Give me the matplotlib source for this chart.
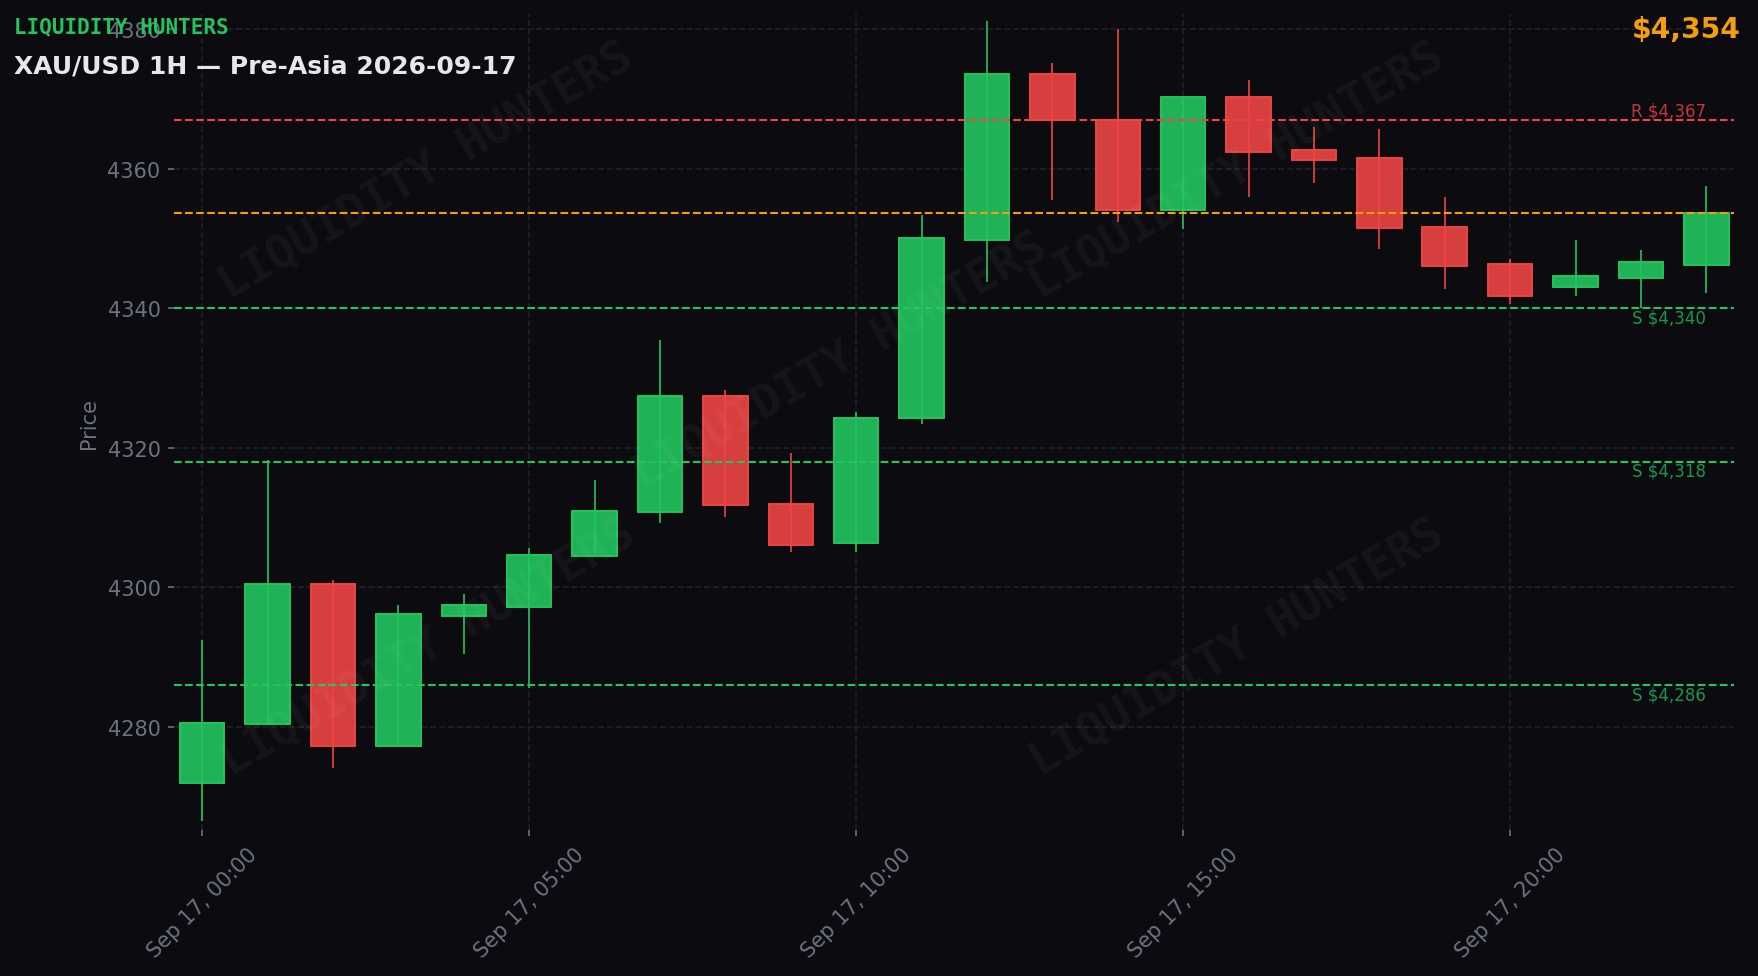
import matplotlib
matplotlib.use("Agg")
import matplotlib.pyplot as plt
import matplotlib.dates as mdates
import pandas as pd
import numpy as np

# ---------------- data ----------------
times = pd.date_range("2026-09-17 00:00", periods=24, freq="h")
opens = [4271.9, 4280.4, 4300.4, 4277.3, 4295.9, 4297.2, 4304.5, 4310.8,
         4327.4, 4311.9, 4306.3, 4324.2, 4349.7, 4373.5, 4367.0, 4354.1,
         4370.2, 4362.6, 4361.5, 4351.7, 4346.3, 4343.1, 4344.35, 4346.2]
highs = [4292.4, 4318.2, 4301.0, 4297.4, 4299.0, 4305.6, 4315.4, 4335.4,
         4328.3, 4319.3, 4325.1, 4353.3, 4381.1, 4375.1, 4380.0, 4370.2,
         4372.7, 4366.0, 4365.7, 4356.0, 4347.0, 4349.8, 4348.3, 4357.5]
lows = [4266.5, 4280.3, 4274.1, 4277.1, 4290.4, 4285.6, 4304.4, 4309.2,
        4310.1, 4305.1, 4305.1, 4323.4, 4343.7, 4355.5, 4352.4, 4351.3,
        4356.0, 4358.0, 4348.5, 4342.8, 4340.6, 4341.8, 4340.0, 4342.1]
closes = [4280.5, 4300.4, 4277.2, 4296.1, 4297.5, 4304.6, 4310.9, 4327.4,
          4311.8, 4306.1, 4324.2, 4350.0, 4373.5, 4367.0, 4354.1, 4370.2,
          4362.4, 4361.3, 4351.5, 4346.1, 4341.8, 4344.55, 4346.6, 4353.7]

resistance_levels = [4367]
support_levels = [4340, 4318, 4286]
current_price = 4353.7

brand = "LIQUIDITY HUNTERS"
title = "XAU/USD 1H \u2014 Pre-Asia 2026-09-17"
price_label = "$4,354"
y_ticks = [4280, 4300, 4320, 4340, 4360, 4380]

# ---------------- style ----------------
BG = "#0b0b10"
GREEN = "#22c55e"
RED = "#ef4444"
ORANGE = "#f59e0b"
GREY = "#6b7280"
GRID = "#1f2029"

fig = plt.figure(figsize=(11.72, 6.5133), dpi=150, facecolor=BG)
ax = fig.add_axes([0.099, 0.1494, 0.8876, 0.8352])
ax.set_facecolor(BG)

x = mdates.date2num(times.to_pydatetime())
hour = 1.0 / 24.0
width = 0.68 * hour

for xi, o, h, l, c in zip(x, opens, highs, lows, closes):
    col = GREEN if c >= o else RED
    ax.vlines(xi, l, h, color=col, linewidth=0.8, zorder=2)
    ax.bar(xi, abs(c - o), bottom=min(o, c), width=width, color=col,
           alpha=0.9, edgecolor=col, linewidth=0.8, zorder=3)
# solid edges on top (bar alpha applies to edge too)
for xi, o, c in zip(x, opens, closes):
    col = GREEN if c >= o else RED
    ax.bar(xi, abs(c - o), bottom=min(o, c), width=width, fill=False,
           edgecolor=col, linewidth=0.8, zorder=4)

# levels
for lv in resistance_levels:
    ax.axhline(lv, color=RED, linestyle="--", linewidth=1.0, zorder=5)
    ax.text(x[-1], lv + 0.05, f"R ${lv:,}", color=RED, alpha=0.8, fontsize=8,
            ha="right", va="bottom", zorder=6)
for lv in support_levels:
    ax.axhline(lv, color=GREEN, linestyle="--", linewidth=1.0, zorder=5)
    ax.text(x[-1], lv - 0.05, f"S ${lv:,}", color=GREEN, alpha=0.75, fontsize=8,
            ha="right", va="top", zorder=6)
ax.axhline(current_price, color=ORANGE, linestyle="--", linewidth=1.0, zorder=5)

# watermarks
for wx, wy in [(0.1615, 0.808), (0.681, 0.808), (0.427, 0.575),
               (0.163, 0.224), (0.681, 0.224)]:
    ax.text(wx, wy, brand, transform=ax.transAxes, rotation=30,
            ha="center", va="center", fontsize=22, family="DejaVu Sans Mono",
            fontweight="bold", color="white", alpha=0.045, zorder=7)

# axes
ax.set_xlim(x[0] - 0.43 * hour, x[-1] + 0.43 * hour)
ax.set_ylim(4265.2, 4382.15)
ax.set_yticks(y_ticks)
ax.xaxis.set_major_locator(mdates.HourLocator(byhour=[0, 5, 10, 15, 20]))
ax.xaxis.set_major_formatter(mdates.DateFormatter("%b %d, %H:%M"))
plt.setp(ax.get_xticklabels(), rotation=45, ha="center")
ax.tick_params(colors=GREY, labelcolor=GREY, labelsize=10, length=3, width=0.8)
ax.grid(True, color=GRID, linestyle="--", linewidth=0.8, zorder=0)
ax.set_axisbelow(True)
for sp in ax.spines.values():
    sp.set_visible(False)
ax.set_ylabel("Price", color=GREY, fontsize=10)

# header texts
fig.text(0.008, 0.966, brand, color=GREEN, fontsize=10, fontweight="bold",
         family="DejaVu Sans Mono", ha="left", va="baseline")
fig.text(0.008, 0.925, title, color="#e5e7eb", fontsize=12, fontweight="bold",
         ha="left", va="baseline")
fig.text(0.99, 0.961, price_label, color=ORANGE, fontsize=13.5, fontweight="bold",
         ha="right", va="baseline")

fig.savefig("out.png", dpi=150, facecolor=BG)
